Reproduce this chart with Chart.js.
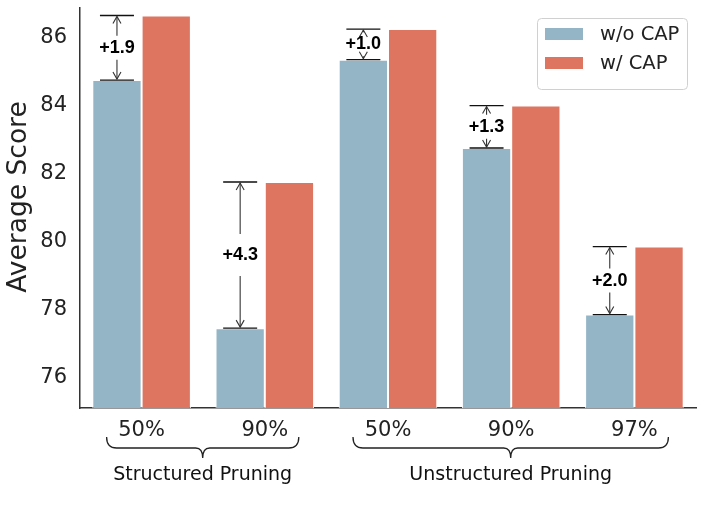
<!DOCTYPE html>
<html>
<head>
<meta charset="utf-8">
<script src="https://cdn.jsdelivr.net/npm/chart.js@4.4.0/dist/chart.umd.min.js"></script>
<style>
  html, body { margin: 0; padding: 0; background: #fff; }
  #wrap { width: 706px; height: 506px; position: relative; }
</style>
</head>
<body>
<div id="wrap"><canvas id="scoreChart"></canvas></div>
<script>
// data
const categories = ['50%', '90%', '50%', '90%', '97%'];
const withoutCap = [84.7, 77.4, 85.3, 82.7, 77.8];
const withCap = [86.6, 81.7, 86.2, 83.95, 79.8];
const gainLabels = ['+1.9', '+4.3', '+1.0', '+1.3', '+2.0'];
const yTicks = [76, 78, 80, 82, 84, 86];
const yTitle = 'Average Score';
const groupLabels = ['Structured Pruning', 'Unstructured Pruning'];
const groupStart = [0, 2];
const groupEnd = [1, 4];

const BLUE = '#93b5c6';
const RED = '#dd7560';

function drawArrow(ctx, x, y0, y1) {
    // line from y0 to y1 with an open head at y1
    ctx.beginPath();
    ctx.moveTo(x, y0);
    ctx.lineTo(x, y1);
    ctx.stroke();
    const dir = y1 < y0 ? 1 : -1;
    ctx.beginPath();
    ctx.moveTo(x - 4, y1 + dir * 7);
    ctx.lineTo(x, y1);
    ctx.lineTo(x + 4, y1 + dir * 7);
    ctx.stroke();
}

const gainPlugin = {
    id: 'gains',
    afterDatasetsDraw(chart) {
        const ctx = chart.ctx;
        const m0 = chart.getDatasetMeta(0);
        const y = chart.scales.y;
        ctx.save();
        m0.data.forEach((bar, i) => {
            const x = bar.x;
            const yLow = y.getPixelForValue(withoutCap[i]);
            const yHigh = y.getPixelForValue(withCap[i]);
            const mid = (yLow + yHigh) / 2;
            ctx.strokeStyle = '#111';
            ctx.lineWidth = 1.3;
            ctx.beginPath();
            ctx.moveTo(x - 17, yHigh); ctx.lineTo(x + 17, yHigh);
            ctx.moveTo(x - 17, yLow); ctx.lineTo(x + 17, yLow);
            ctx.stroke();
            ctx.strokeStyle = '#333';
            ctx.lineWidth = 1.1;
            const gap = (yLow - yHigh) > 100 ? 21 : 12;
            drawArrow(ctx, x, Math.max(mid - gap, yHigh + 1), yHigh + 1);
            drawArrow(ctx, x, Math.min(mid + gap, yLow - 1), yLow - 1);
            ctx.fillStyle = '#000';
            ctx.font = 'bold 18px "Liberation Sans", Arial, sans-serif';
            ctx.textAlign = 'center';
            ctx.textBaseline = 'middle';
            ctx.fillText(gainLabels[i], x, mid);
        });
        ctx.restore();
    },
    afterDraw(chart) {
        const ctx = chart.ctx;
        const xs = chart.scales.x;
        ctx.save();

        // y axis title
        ctx.save();
        ctx.translate(19, 197);
        ctx.rotate(-Math.PI / 2);
        ctx.fillStyle = '#222';
        ctx.font = '26.5px "DejaVu Sans", sans-serif';
        ctx.textAlign = 'center';
        ctx.textBaseline = 'middle';
        ctx.fillText(yTitle, 0, 0);
        ctx.restore();

        // group braces under the x axis
        ctx.strokeStyle = '#222';
        ctx.lineWidth = 1.3;
        groupLabels.forEach((label, g) => {
            const x1 = xs.getPixelForValue(groupStart[g]) - 35;
            const x2 = xs.getPixelForValue(groupEnd[g]) + 34;
            const mid = (x1 + x2) / 2;
            const yTop = 437, yLine = 448, yTip = 458;
            ctx.beginPath();
            ctx.moveTo(x1, yTop);
            ctx.quadraticCurveTo(x1, yLine, x1 + 10, yLine);
            ctx.lineTo(mid - 7, yLine);
            ctx.quadraticCurveTo(mid, yLine, mid, yTip);
            ctx.quadraticCurveTo(mid, yLine, mid + 7, yLine);
            ctx.lineTo(x2 - 10, yLine);
            ctx.quadraticCurveTo(x2, yLine, x2, yTop);
            ctx.stroke();
            ctx.fillStyle = '#111';
            ctx.font = '19px "DejaVu Sans", sans-serif';
            ctx.textAlign = 'center';
            ctx.textBaseline = 'middle';
            ctx.fillText(label, mid, 475);
        });

        // legend box in the upper right
        const bx = 537, by = 18, bw = 150, bh = 71;
        ctx.fillStyle = 'rgba(255,255,255,0.85)';
        ctx.strokeStyle = '#d0d0d0';
        ctx.lineWidth = 1;
        ctx.beginPath();
        ctx.roundRect(bx + 0.5, by + 0.5, bw, bh, 4);
        ctx.fill();
        ctx.stroke();
        chart.data.datasets.forEach((ds, i) => {
            const rowY = by + 16 + i * 29;
            ctx.fillStyle = ds.backgroundColor;
            ctx.fillRect(bx + 8, rowY - 6, 38, 12);
            ctx.fillStyle = '#222';
            ctx.font = '19.5px "DejaVu Sans", sans-serif';
            ctx.textAlign = 'left';
            ctx.textBaseline = 'middle';
            ctx.fillText(ds.label, bx + 63, rowY + 1);
        });
        ctx.restore();
    }
};

const ctx = document.getElementById('scoreChart').getContext('2d');
new Chart(ctx, {
    type: 'bar',
    data: {
        labels: categories,
        datasets: [
            {
                label: 'w/o CAP',
                data: withoutCap,
                backgroundColor: BLUE,
                borderColor: '#ffffff',
                borderWidth: 1,
                categoryPercentage: 0.8,
                barPercentage: 1.0
            },
            {
                label: 'w/ CAP',
                data: withCap,
                backgroundColor: RED,
                borderColor: '#ffffff',
                borderWidth: 1,
                categoryPercentage: 0.8,
                barPercentage: 1.0
            }
        ]
    },
    options: {
        responsive: true,
        maintainAspectRatio: false,
        animation: false,
        layout: { padding: { top: 8, right: 10, left: 0, bottom: 0 } },
        plugins: {
            legend: { display: false },
            tooltip: { enabled: false }
        },
        scales: {
            x: {
                grid: { display: false, drawTicks: false },
                border: { color: '#333', width: 1.5 },
                ticks: {
                    color: '#222',
                    padding: 10,
                    maxRotation: 0,
                    font: { family: '"DejaVu Sans", sans-serif', size: 21 }
                },
                afterFit: (scale) => {
                    scale.height = 98;
                    scale.paddingLeft = 0;
                    scale.paddingRight = 0;
                }
            },
            y: {
                min: 75.05,
                max: 86.82,
                grid: { display: false, drawTicks: false },
                border: { color: '#333', width: 1.5 },
                afterBuildTicks: (axis) => { axis.ticks = yTicks.map(v => ({ value: v })); },
                ticks: {
                    color: '#222',
                    padding: 13,
                    labelOffset: 2,
                    font: { family: '"DejaVu Sans", sans-serif', size: 21 }
                },
                afterFit: (scale) => {
                    scale.width = 80;
                    scale.paddingTop = 0;
                    scale.paddingBottom = 0;
                }
            }
        }
    },
    plugins: [gainPlugin]
});
</script>
</body>
</html>
